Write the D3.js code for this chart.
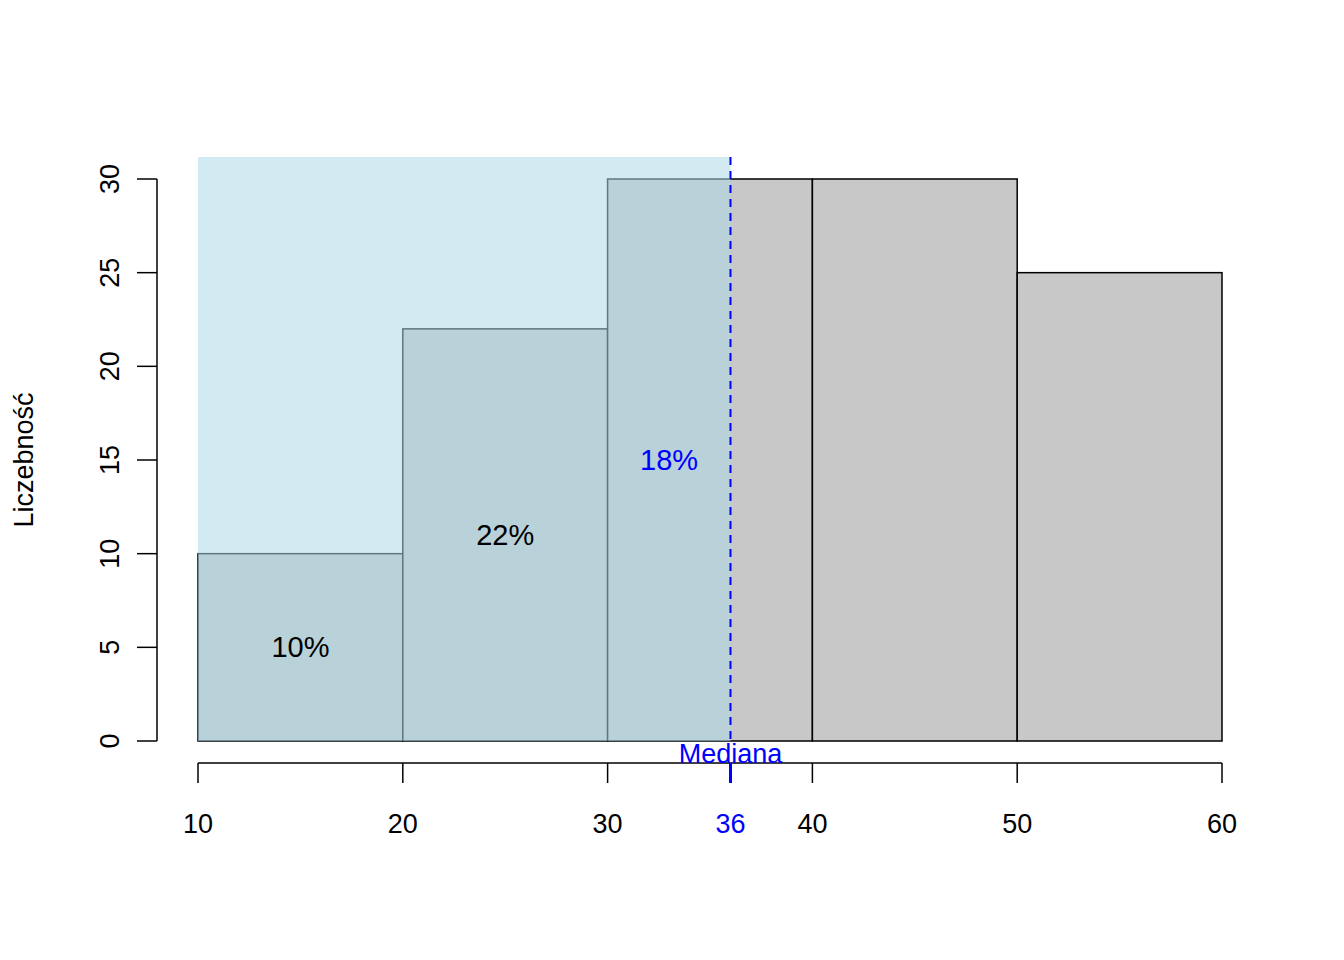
<!DOCTYPE html>
<html>
<head>
<meta charset="UTF-8">
<script src="https://cdnjs.cloudflare.com/ajax/libs/d3/7.8.5/d3.min.js"></script>
<style>
  body { margin: 0; background: #fff; }
  text { font-family: "Liberation Sans", Arial, sans-serif; }
</style>
</head>
<body>
<svg id="chart" width="1344" height="960"></svg>
<script>
const breaks = [10, 20, 30, 40, 50, 60];
const counts = [10, 22, 30, 30, 25, 13];
const median = 36;
const xTicks = [10, 20, 30, 40, 50, 60];
const yTicks = [0, 5, 10, 15, 20, 25, 30];
const pctLabels = [
  { x: 15, y: 5, text: "10%", color: "#000" },
  { x: 25, y: 11, text: "22%", color: "#000" },
  { x: 33, y: 15, text: "18%", color: "#0000ff" }
];

const svg = d3.select("#chart");
const x = d3.scaleLinear().domain([10, 60]).range([198, 1222]);
const y = d3.scaleLinear().domain([0, 30]).range([741, 179]);
const plotTop = 157;

// bars
svg.selectAll("rect.bar")
  .data(counts)
  .enter().append("rect")
  .attr("x", (d, i) => x(breaks[i]))
  .attr("width", (d, i) => x(breaks[i + 1]) - x(breaks[i]))
  .attr("y", d => y(d))
  .attr("height", d => y(0) - y(d))
  .attr("fill", "#c8c8c8")
  .attr("stroke", "#000")
  .attr("stroke-width", 1.5);

// shaded area up to the median
svg.append("rect")
  .attr("x", x(10)).attr("y", plotTop)
  .attr("width", x(median) - x(10)).attr("height", y(0) - plotTop)
  .attr("fill", "rgb(173,216,230)").attr("fill-opacity", 0.55);

// median line
svg.append("line")
  .attr("x1", x(median)).attr("x2", x(median))
  .attr("y1", plotTop).attr("y2", y(0))
  .attr("stroke", "#0000ff").attr("stroke-width", 2)
  .attr("stroke-dasharray", "8,6");

// percent labels
svg.selectAll("text.pct")
  .data(pctLabels)
  .enter().append("text")
  .attr("x", d => x(d.x)).attr("y", d => y(d.y))
  .attr("dy", "0.35em")
  .attr("text-anchor", "middle")
  .attr("font-size", 29)
  .attr("fill", d => d.color)
  .text(d => d.text);

// y axis
const yAxis = svg.append("g").attr("transform", "translate(157,0)");
yAxis.append("line").attr("x1", 0).attr("x2", 0).attr("y1", y(0)).attr("y2", y(30))
  .attr("stroke", "#000").attr("stroke-width", 1.5);
yTicks.forEach(t => {
  yAxis.append("line").attr("x1", 0).attr("x2", -20).attr("y1", y(t)).attr("y2", y(t))
    .attr("stroke", "#000").attr("stroke-width", 1.5);
  yAxis.append("text")
    .attr("transform", `translate(-47,${y(t)}) rotate(-90)`)
    .attr("dy", "0.35em").attr("text-anchor", "middle")
    .attr("font-size", 27).text(t);
});

// x axis
const axY = 763;
const xAxis = svg.append("g");
xAxis.append("line").attr("x1", x(10)).attr("x2", x(60)).attr("y1", axY).attr("y2", axY)
  .attr("stroke", "#000").attr("stroke-width", 1.5);
xTicks.forEach(t => {
  xAxis.append("line").attr("x1", x(t)).attr("x2", x(t)).attr("y1", axY).attr("y2", axY + 20)
    .attr("stroke", "#000").attr("stroke-width", 1.5);
  xAxis.append("text").attr("x", x(t)).attr("y", 833)
    .attr("text-anchor", "middle").attr("font-size", 27).text(t);
});
xAxis.append("line").attr("x1", x(median)).attr("x2", x(median)).attr("y1", axY).attr("y2", axY + 20)
  .attr("stroke", "#0000ff").attr("stroke-width", 3);
xAxis.append("text").attr("x", x(median)).attr("y", 833)
  .attr("text-anchor", "middle").attr("font-size", 27).attr("fill", "#0000ff").text(median);
svg.append("text").attr("x", x(median)).attr("y", 763)
  .attr("text-anchor", "middle").attr("font-size", 27).attr("fill", "#0000ff").text("Mediana");

// y label
svg.append("text")
  .attr("transform", `translate(24,${(y(0) + y(30)) / 2}) rotate(-90)`)
  .attr("dy", "0.35em").attr("text-anchor", "middle")
  .attr("font-size", 27).text("Liczebność");
</script>
</body>
</html>
